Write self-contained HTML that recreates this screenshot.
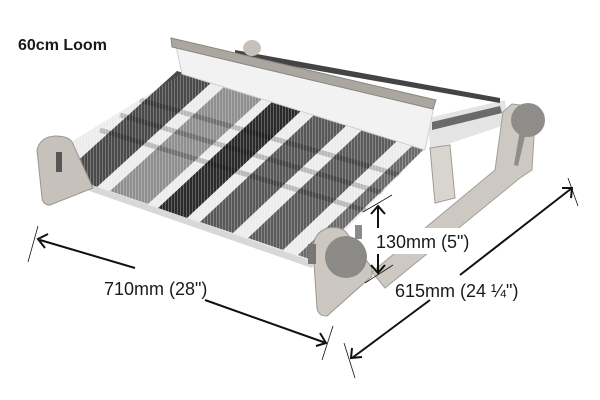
<!DOCTYPE html>
<html><head><meta charset="utf-8"><style>
html,body{margin:0;padding:0;background:#fff;}
svg{display:block;}
text{font-family:"Liberation Sans",sans-serif;fill:#1a1a1a;}
</style></head><body>
<svg width="600" height="400" viewBox="0 0 600 400" xmlns="http://www.w3.org/2000/svg">
<defs>
<pattern id="weave" width="3" height="3" patternUnits="userSpaceOnUse">
<rect width="1" height="3" fill="#fff" opacity="0.25"/>
</pattern>
<clipPath id="cl"><polygon points="58,150 183,73 425,148 315,262 97,187 62,175"/></clipPath>
</defs>
<!-- back roller & warp beyond reed -->
<polygon points="428,118 505,100 508,124 430,150" fill="#e4e4e4"/>
<polygon points="432,122 500,106 502,113 432,130" fill="#6a6a6a"/>
<polygon points="235,50 500,98 500,103 235,56" fill="#444"/>
<ellipse cx="252" cy="48" rx="9" ry="8" fill="#c6c2bb"/>
<!-- right rail -->
<polygon points="372,272 495,170 503,112 512,104 528,106 535,120 532,170 520,178 385,288" fill="#cdc9c2" stroke="#a39f98" stroke-width="1"/>
<polygon points="430,148 450,145 455,198 435,203" fill="#d8d5cf" stroke="#a09c95"/>
<circle cx="528" cy="120" r="17" fill="#8f8d8a"/>
<path d="M520 130 L514 165 L518 166 L526 132Z" fill="#8f8d8a"/>
<!-- cloth base -->
<polygon points="58,150 183,73 425,148 315,262 97,187 62,175" fill="#ececec"/>
<polygon points="62,175 97,187 212,82 177,71" fill="#4a4a4a"/>
<polygon points="110,191 148,204 263,98 225,86" fill="#8f8f8f"/>
<polygon points="158,208 187,218 302,110 273,101" fill="#2b2b2b"/>
<polygon points="200,222 233,233 348,124 315,114" fill="#585858"/>
<polygon points="248,238 283,250 398,140 363,129" fill="#5c5c5c"/>
<polygon points="298,255 312,260 425,148 413,145" fill="#6a6a6a"/>
<g clip-path="url(#cl)">
<g stroke="#000" stroke-width="5" opacity="0.22">
<line x1="100" y1="130" x2="400" y2="221"/>
<line x1="120" y1="115" x2="410" y2="201"/>
<line x1="140" y1="100" x2="420" y2="181"/>
</g>
<polygon points="0,0 600,0 600,400 0,400" fill="url(#weave)"/>
</g>
<!-- reed -->
<polygon points="176,46 434,106 425,150 182,74" fill="#f2f2f2" stroke="#d0d0d0"/>
<polygon points="171,38 436,100 433,109 172,47" fill="#aaa6a0" stroke="#8a867f"/>
<!-- front roller edge -->
<polygon points="62,172 97,187 315,262 312,268 95,193 60,180" fill="#d8d8d8"/>
<!-- left end piece -->
<path d="M37,150 Q40,137 55,136 Q68,136 72,142 L93,188 L50,205 Q43,205 42,198 Z" fill="#c6c2bb" stroke="#9a968f"/>
<rect x="56" y="152" width="6" height="20" fill="#555"/>
<!-- front right end piece -->
<path d="M313,248 Q314,232 328,228 Q340,226 346,232 L372,268 L372,276 L327,316 Q318,316 317,308 Z" fill="#ccc8c1" stroke="#9a968f"/>
<rect x="308" y="244" width="8" height="20" fill="#777"/>
<circle cx="346" cy="257" r="21" fill="#8c8a87"/>
<rect x="355" y="225" width="7" height="14" fill="#8c8a87"/>
<rect x="372" y="228" width="106" height="26" fill="#fff"/>
<g stroke="#111" stroke-width="2" fill="none">
<line x1="40" y1="240" x2="135" y2="268"/>
<line x1="205" y1="300" x2="326" y2="343"/>
<polyline points="48,234 38,239 45,248"/>
<polyline points="316,346 326,343 320,333"/>
<line x1="352" y1="358" x2="430" y2="300"/>
<line x1="460" y1="275" x2="572" y2="188"/>
<polyline points="352,348 351,358 362,357"/>
<polyline points="562,188 572,188 571,198"/>
<line x1="378" y1="207" x2="378" y2="228"/>
<line x1="378" y1="254" x2="378" y2="272"/>
<polyline points="371,214 378,206 385,214"/>
<polyline points="371,265 378,273 385,265"/>
</g>
<g stroke="#111" stroke-width="0.8">
<line x1="38" y1="226" x2="28" y2="262"/>
<line x1="333" y1="326" x2="322" y2="360"/>
<line x1="344" y1="343" x2="355" y2="378"/>
<line x1="568" y1="178" x2="578" y2="206"/>
<line x1="363" y1="212" x2="392" y2="195"/>
<line x1="365" y1="283" x2="393" y2="265"/>
</g>
<text x="18" y="50" font-size="16" font-weight="bold">60cm Loom</text>
<text x="376" y="248" font-size="18">130mm (5")</text>
<text x="104" y="295" font-size="18">710mm (28")</text>
<text x="395" y="297" font-size="18">615mm (24 ¼")</text>
</svg>
</body></html>
